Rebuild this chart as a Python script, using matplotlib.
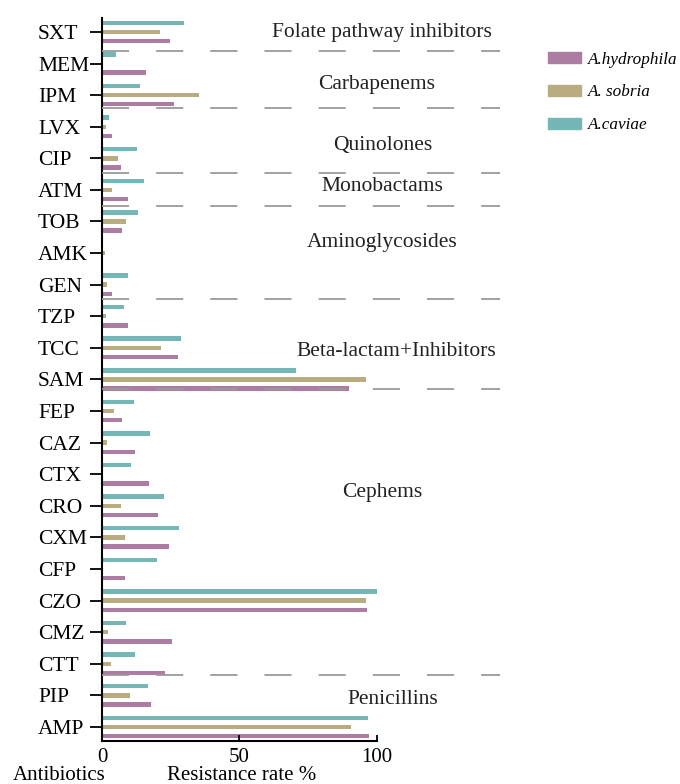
import numpy as np
import matplotlib
matplotlib.use("Agg")
import matplotlib.pyplot as plt
from matplotlib.patches import Patch

plt.rcParams['font.family'] = ['Liberation Serif', 'DejaVu Serif']

# antibiotics, top to bottom
drugs = ['SXT', 'MEM', 'IPM', 'LVX', 'CIP', 'ATM', 'TOB', 'AMK', 'GEN',
         'TZP', 'TCC', 'SAM', 'FEP', 'CAZ', 'CTX', 'CRO', 'CXM', 'CFP',
         'CZO', 'CMZ', 'CTT', 'PIP', 'AMP']

# resistance rate %
caviae = [29.7, 5.2, 13.7, 2.5, 12.6, 15.2, 13.1, 0, 9.3,
          8.1, 28.6, 70.7, 11.8, 17.6, 10.5, 22.4, 27.9, 20.1,
          100, 8.7, 11.9, 16.7, 96.8]
sobria = [21.0, 0, 35.4, 1.6, 6.0, 3.6, 8.8, 1.2, 1.8,
          1.6, 21.3, 96.0, 4.2, 1.8, 0, 7.0, 8.5, 0,
          96.0, 2.1, 3.3, 10.3, 90.5]
hydrophila = [24.6, 16.0, 26.3, 3.6, 6.8, 9.5, 7.4, 0, 3.6,
              9.3, 27.6, 89.9, 7.3, 11.9, 17.2, 20.5, 24.2, 8.5,
              96.5, 25.6, 22.9, 17.9, 97.3]

# drug classes: (label, first drug, last drug)
groups = [('Folate pathway inhibitors', 'SXT', 'SXT'),
          ('Carbapenems', 'MEM', 'IPM'),
          ('Quinolones', 'LVX', 'CIP'),
          ('Monobactams', 'ATM', 'ATM'),
          ('Aminoglycosides', 'TOB', 'GEN'),
          ('Beta-lactam+Inhibitors', 'TZP', 'SAM'),
          ('Cephems', 'FEP', 'CTT'),
          ('Penicillins', 'PIP', 'AMP')]

# where the class label sits (row units, relative to first drug) and
# how far below the last drug the dashed separator is drawn
label_rows = [0.03, 0.67, 0.6, -0.1, 0.67, 1.1, 2.57, 0.14]
label_x = [102, 100, 102, 102, 102, 107, 102, 106]
sep_offsets = [0.6, 0.4, 0.46, 0.5, 0.44, 0.31, 0.35]

c_hyd = '#ad7ca3'
c_sob = '#b9ac80'
c_cav = '#74b7b6'

fig = plt.figure(figsize=(6.8, 7.84), dpi=100)
ax = fig.add_axes([0.15, 0.055, 0.586, 0.922])

y = np.arange(len(drugs))
h = 0.14
off = 0.29
ax.barh(y - off, caviae, height=h, color=c_cav, edgecolor='none')
ax.barh(y, sobria, height=h, color=c_sob, edgecolor='none')
ax.barh(y + off, hydrophila, height=h, color=c_hyd, edgecolor='none')

# class separators and labels
for i, (name, first, last) in enumerate(groups):
    a = drugs.index(first)
    b = drugs.index(last)
    if i < len(sep_offsets):
        ys = b + sep_offsets[i]
        ax.plot([0, 145], [ys, ys], color='#9a9a9a', lw=1.3,
                dashes=(15, 15), zorder=3)
    ax.text(label_x[i], a + label_rows[i], name, ha='center', va='center',
            fontsize=15.5, color='#222222')

ax.set_xlim(0, 145)
ax.set_ylim(len(drugs) - 0.56, -0.44)
ax.set_yticks(y)
ax.set_yticklabels(drugs, fontsize=15.5)
for lab in ax.get_yticklabels():
    lab.set_horizontalalignment('left')
ax.set_xticks([0, 50, 100])
ax.set_xticklabels(['0', '50', '100'], fontsize=15)
ax.tick_params(axis='y', length=8.6, width=1.3, pad=37.4)
ax.tick_params(axis='x', direction='in', length=4.5, width=1.3, pad=5)
for s in ['top', 'right']:
    ax.spines[s].set_visible(False)
ax.spines['left'].set_linewidth(1.5)
ax.spines['bottom'].set_linewidth(1.5)
ax.spines['bottom'].set_bounds(0, 100)

fig.text(0.019, 0.005, 'Antibiotics', fontsize=15, ha='left', va='baseline')
fig.text(0.356, 0.005, 'Resistance rate %', fontsize=15, ha='center',
         va='baseline')

handles = [Patch(color=c_hyd), Patch(color=c_sob), Patch(color=c_cav)]
labels = ['A.hydrophila', 'A. sobria', 'A.caviae']
fig.legend(handles, labels, loc='upper left', bbox_to_anchor=(0.806, 0.934),
           frameon=False, prop={'style': 'italic', 'size': 12.3},
           handlelength=1.9, handleheight=0.6, labelspacing=0.98,
           handletextpad=0.45, borderaxespad=0, borderpad=0)

fig.savefig('out.png', dpi=100)
